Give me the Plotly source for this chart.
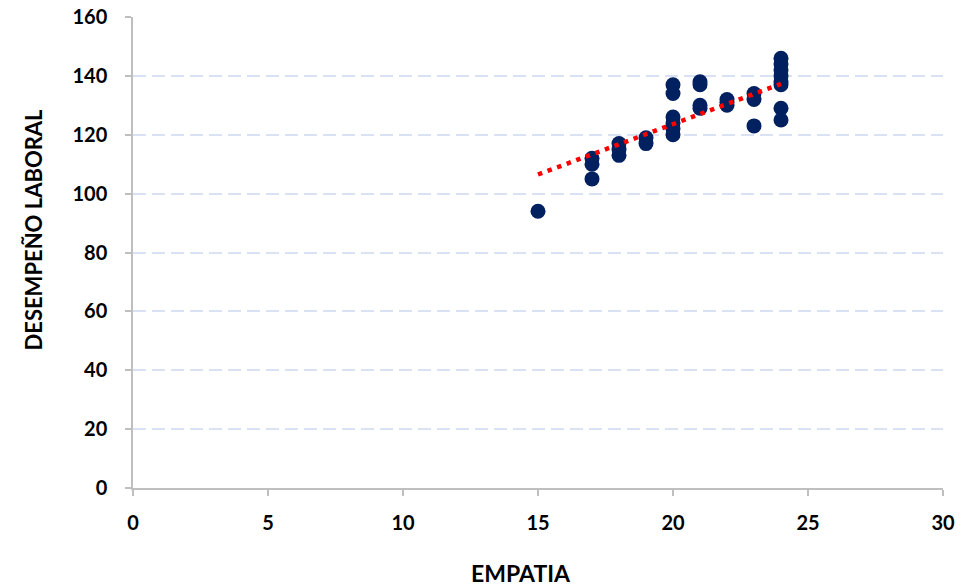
import plotly.graph_objects as go

empatia = [15,
           17, 17, 17,
           18, 18, 18,
           19, 19,
           20, 20, 20, 20, 20, 20,
           21, 21, 21, 21,
           22, 22, 22,
           23, 23, 23,
           24, 24, 24, 24, 24, 24, 24, 24]
desempeno = [94,
             112, 110, 105,
             117, 115, 113,
             119, 117,
             137, 134, 126, 124, 122, 120,
             138, 137, 130, 129,
             132, 131, 130,
             134, 132, 123,
             146, 144, 142, 140, 138, 137, 129, 125]

# linear trendline endpoints
trend_x = [15, 24]
trend_y = [106.5, 137.3]

x_ticks = [0, 5, 10, 15, 20, 25, 30]
y_ticks = [0, 20, 40, 60, 80, 100, 120, 140, 160]

FONT = "Lato"
fig = go.Figure()
fig.add_trace(go.Scatter(x=empatia, y=desempeno, mode="markers",
                         marker=dict(color="#002060", size=15, line=dict(width=0)),
                         showlegend=False))
fig.add_trace(go.Scatter(x=trend_x, y=trend_y, mode="lines",
                         line=dict(color="#ff0000", width=4.5, dash="4.5px,5.7px"),
                         showlegend=False))

tickfont = dict(family=FONT, size=20, color="#000000", weight="bold")
fig.update_layout(
    width=962, height=587,
    margin=dict(l=133, r=19, t=17, b=99, pad=0),
    showlegend=False,
    paper_bgcolor="white", plot_bgcolor="white",
    font=dict(family=FONT, size=20, color="#000000"),
    xaxis=dict(range=[0, 30], tickvals=x_ticks, showgrid=False, zeroline=False,
               showline=True, linecolor="#bfbfbf", linewidth=1.5, automargin=False,
               ticks="outside", ticklen=6, tickcolor="#bfbfbf", tickwidth=1.5,
               ticklabelstandoff=10, tickfont=tickfont),
    yaxis=dict(range=[0, 160], tickvals=y_ticks, showgrid=True, gridcolor="#d9e2f3",
               griddash="13px,6px", gridwidth=2, zeroline=False, automargin=False,
               showline=True, linecolor="#bfbfbf", linewidth=1.5,
               ticks="outside", ticklen=6, tickcolor="#bfbfbf", tickwidth=1.5,
               ticklabelstandoff=14, tickfont=tickfont),
    annotations=[
        dict(text="<b>EMPATIA</b>", xref="paper", yref="paper", x=0.5, y=0,
             xanchor="center", yanchor="middle", xshift=-17, yshift=-85,
             showarrow=False, font=dict(family=FONT, size=23, color="#000000")),
        dict(text="<b>DESEMPEÑO LABORAL</b>", xref="paper", yref="paper", x=0, y=0.5,
             xanchor="center", yanchor="middle", xshift=-100, yshift=23, textangle=-90,
             showarrow=False, font=dict(family=FONT, size=22, color="#000000")),
    ],
)

fig.write_html("out.html")
